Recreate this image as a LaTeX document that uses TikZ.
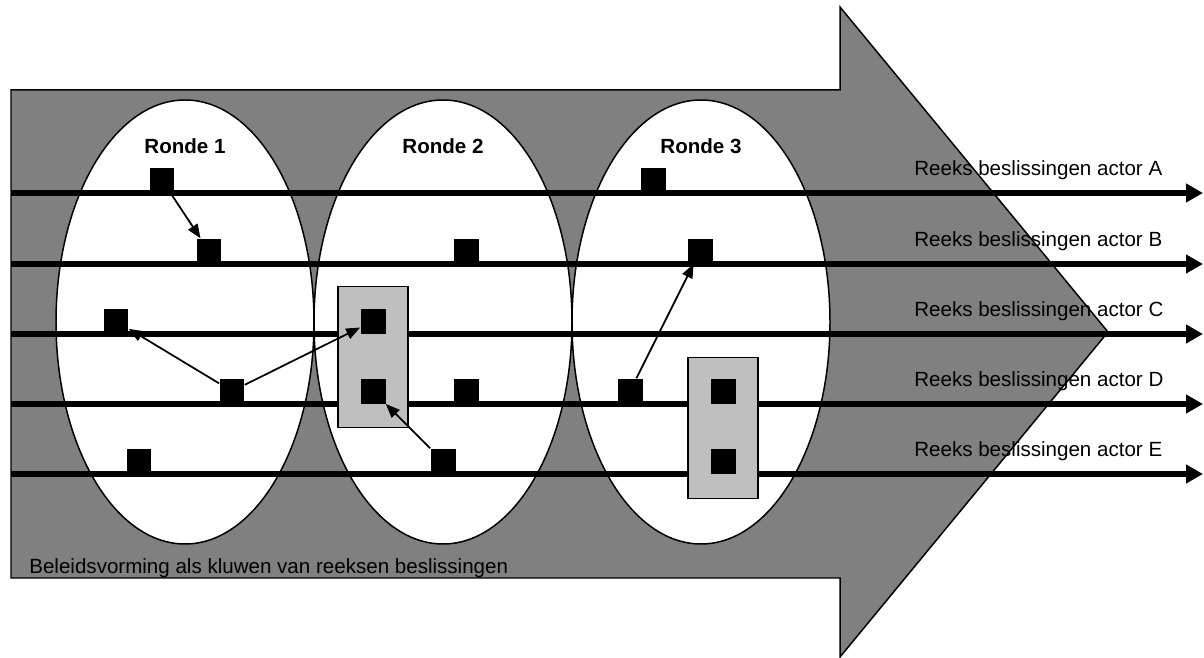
\documentclass[tikz,border=0pt]{standalone}
\usepackage{fontspec}
\setmainfont{Liberation Sans}
\usetikzlibrary{arrows.meta}

\begin{document}
\begin{tikzpicture}[
  x=0.02cm, y=-0.02cm,
  font=\fontsize{11.7}{14}\selectfont,
  pijlvorm/.style={draw,fill=black!50,line width=0.85pt,line join=miter},
  ronde/.style={draw,fill=white,line width=0.85pt},
  reeks/.style={-{Triangle[length=0.34cm,width=0.36cm]},line width=2.85pt},
  kader/.style={draw,fill=black!25,line width=0.85pt,minimum width=1.4cm,minimum height=2.82cm},
  blok/.style={fill=black,minimum size=0.5cm,inner sep=0pt,anchor=south},
  stap/.style={-{Triangle[length=0.28cm,width=0.22cm]},line width=1pt},
  kop/.style={font=\bfseries\fontsize{11.7}{14}\selectfont}
]
  \useasboundingbox (0,0) rectangle (1204,658);

  % grote pijl
  \draw[pijlvorm] (11,90) -- (840,90) -- (840,7) -- (1108,332)
    -- (840,657) -- (840,578) -- (11,578) -- cycle;

  % de drie ronden
  \foreach \xx in {185,443,701} {
    \draw[ronde] (\xx,322) ellipse [x radius=129, y radius=222];
  }
  \node[kop] (ronde1) at (185,146) {Ronde 1};
  \node[kop] (ronde2) at (443,146) {Ronde 2};
  \node[kop] (ronde3) at (701,146) {Ronde 3};

  % reeksen per actor
  \foreach \act/\yy in {A/193,B/264,C/334,D/404,E/474} {
    \coordinate (begin\act) at (11,\yy);
    \coordinate (eind\act) at (1203,\yy);
    \draw[reeks] (begin\act) -- (eind\act);
    \node[anchor=base west,inner sep=0pt] (tekst\act) at (914,\yy-17)
      {Reeks beslissingen actor \act};
  }

  \node[kader] (kader2) at (373,357) {};
  \node[kader] (kader3) at (723,428) {};

  % beslissingen
  \foreach \naam/\xx/\yy in {r1a/162/193, r1b/209/264, r1c/116/334,
      r1d/232/404, r1e/139/474, r2c/373/334, r2d/373/404, r2b/466/264,
      r2dd/466/404, r2e/443/474, r3a/653/193, r3b/700/264, r3d/630/404,
      r3dd/723/404, r3e/723/474} {
    \node[blok] (\naam) at (\xx,\yy) {};
  }

  \draw[stap] (r1a) -- (r1b);
  \draw[stap] (r1d) -- (r1c);
  \draw[stap] (r1d) -- (r2c);
  \draw[stap] (r2e) -- (r2d);
  \draw[stap] (r3d) -- (r3b);

  \node[anchor=base west,inner sep=0pt] (onderschrift) at (29,573)
    {Beleidsvorming als kluwen van reeksen beslissingen};
\end{tikzpicture}
\end{document}
